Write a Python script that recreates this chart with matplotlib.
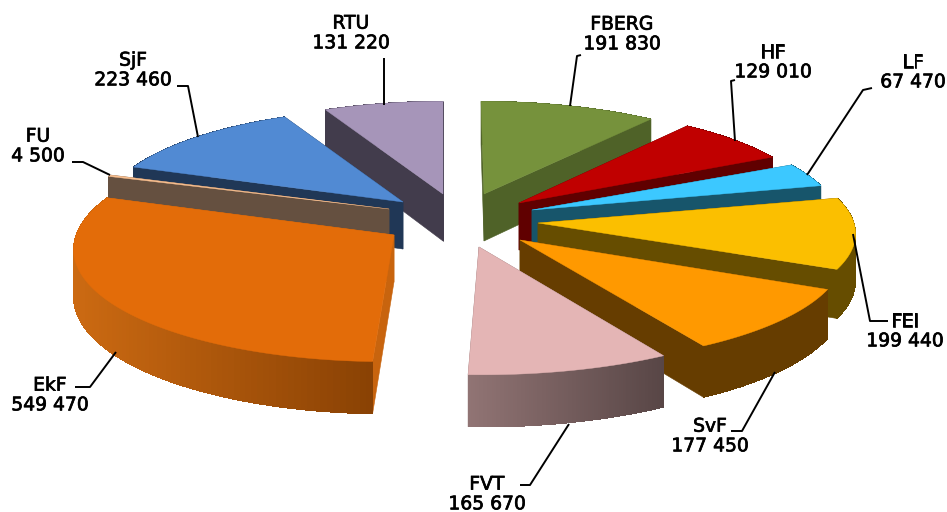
import numpy as np
import matplotlib
matplotlib.use("Agg")
import matplotlib.pyplot as plt
import matplotlib.patheffects as pe
from matplotlib.colors import to_rgb

# ---- data ----
faculties = ["FBERG", "HF", "LF", "FEI", "SvF", "FVT", "EkF", "FU", "SjF", "RTU"]
values = [191830, 129010, 67470, 199440, 177450, 165670, 549470, 4500, 223460, 131220]
value_labels = ["191 830", "129 010", "67 470", "199 440", "177 450",
                "165 670", "549 470", "4 500", "223 460", "131 220"]

# ---- styles / layout (pixel space of the picture) ----
apex_x = dict(zip(faculties, [484, 519, 532, 538, 520, 479, 394, 389, 403, 443]))
apex_y = dict(zip(faculties, [194, 203, 210, 223, 240, 247, 235, 209, 202, 194]))
rad_x = dict(zip(faculties, [300, 298, 305, 316, 322, 330, 318, 308, 298, 296]))
rad_y = dict(zip(faculties, [102, 105, 103, 105, 112, 115, 114, 100, 103, 102]))
shear = dict(zip(faculties, [-3, 0, 0, 0, -7, -3, 8, 0, 0, 0]))
top_col = dict(zip(faculties, ["#76923C", "#C00000", "#3CC8FF", "#FBBF00", "#FF9900",
                               "#E4B5B5", "#E36C09", "#FAC090", "#518AD3", "#A695B9"]))
side_col = dict(zip(faculties, ["#4F6228", "#600000", "#17556B", "#664D00", "#663D00",
                                "#8F7272", "#C8640E", "#655040", "#203756", "#423C4C"]))
outer_a = dict(zip(faculties, ["#4F6228", "#600000", "#17556B", "#664D00", "#663D00",
                               "#917474", "#CC6A12", "#655040", "#203756", "#423C4C"]))
outer_b = dict(zip(faculties, ["#4F6228", "#600000", "#17556B", "#664D00", "#663D00",
                               "#584646", "#8A4204", "#655040", "#203756", "#423C4C"]))
label_xy = dict(zip(faculties, [(622, 34), (773, 62), (913, 72), (905, 331), (710, 436),
                                (487, 494), (50, 395), (38, 146), (133, 70), (351, 33)]))
leaders = {
    "FBERG": [(581, 55), (577, 56), (570, 106)],
    "HF": [(735, 80), (731, 81), (735, 141)],
    "LF": [(872, 88), (863, 90), (807, 175)],
    "FEI": [(888, 321), (870, 321), (853, 234)],
    "SvF": [(731, 431), (742, 431), (775, 372)],
    "FVT": [(520, 485), (530, 485), (569, 424)],
    "EkF": [(75, 387), (90, 387), (116, 352)],
    "FU": [(72, 162), (83, 162), (110, 175)],
    "SjF": [(177, 86), (188, 86), (198, 137)],
    "RTU": [(384, 58), (384, 105)],
}
HEIGHT = 47
PERSP = 0.10
draw_order = ["RTU", "SjF", "FU", "EkF", "FBERG", "HF", "LF", "FEI", "SvF", "FVT"]

fig = plt.figure(figsize=(9.47, 5.12), dpi=100, facecolor="white")
ax = fig.add_axes([0, 0, 1, 1])
ax.set_xlim(0, 947)
ax.set_ylim(512, 0)
ax.axis("off")


def project(name, ang):
    X, Y = np.sin(ang), np.cos(ang)
    s = 1 / (1 + PERSP * Y)
    px = apex_x[name] + rad_x[name] * X * s + shear[name] * Y
    return px, apex_y[name] - rad_y[name] * Y * s, s


edges = np.radians(np.concatenate([[0], np.cumsum(values)]) / sum(values) * 360)
spans = {n: (edges[i], edges[i + 1]) for i, n in enumerate(faculties)}

for z, name in enumerate(draw_order):
    a0, a1 = spans[name]
    t = np.linspace(a0, a1, 100)
    x, y, s = project(name, t)
    ax0, ay0 = apex_x[name], apex_y[name]
    base = z * 10 + 2
    # radial walls
    for xe, ye, se in ((x[0], y[0], s[0]), (x[-1], y[-1], s[-1])):
        ax.fill([ax0, xe, xe, ax0], [ay0, ye, ye + HEIGHT * se, ay0 + HEIGHT],
                color=side_col[name], lw=0.4, zorder=base)
    # outer wall, shaded from left to right; strips overlap so no seams show
    ca, cb = np.array(to_rgb(outer_a[name])), np.array(to_rgb(outer_b[name]))
    xmin, xmax = x.min(), x.max()
    order = np.arange(len(t) - 1)
    for i in order:
        f = (x[i] - xmin) / max(xmax - xmin, 1)
        col = ca + (cb - ca) * f
        j = min(i + 2, len(t) - 1)
        ax.fill([x[i], x[j], x[j], x[i]],
                [y[i], y[j], y[j] + HEIGHT * s[j], y[i] + HEIGHT * s[i]],
                facecolor=col, edgecolor="none", lw=0, antialiased=False, zorder=base + 1)
    # top face
    ax.fill(np.r_[ax0, x], np.r_[ay0, y], color=top_col[name], lw=0.3, zorder=base + 2)

for name, lab in zip(faculties, value_labels):
    lx, ly = label_xy[name]
    txt = ax.text(lx, ly, f"{name}\n{lab}", ha="center", va="center", fontsize=13.5,
                  family="DejaVu Sans", color="black", linespacing=1.05, zorder=200)
    txt.set_path_effects([pe.withStroke(linewidth=0.5, foreground="black")])
    pts = np.array(leaders[name])
    ax.plot(pts[:, 0], pts[:, 1], color="black", lw=1.4, zorder=150, solid_capstyle="butt")

fig.savefig("out.png", dpi=100)
